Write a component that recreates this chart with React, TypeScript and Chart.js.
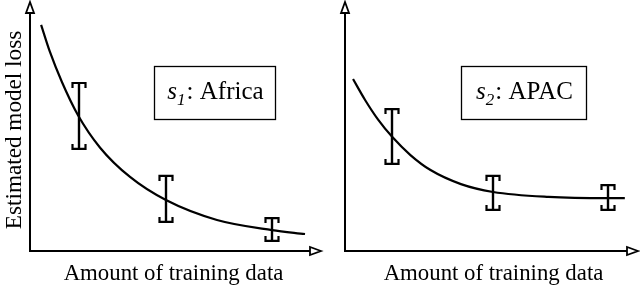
import React, { useEffect, useRef } from "react";
import { Chart, registerables } from "chart.js";
Chart.register(...registerables);

const FONT = '"Liberation Serif", "Times New Roman", serif';

// Panel s1: Africa
const africaCurveX = [0.39, 0.7, 1.12, 1.68, 2.46, 3.51, 4.77, 6.56, 8.49, 9.65];
const africaCurveY = [9.19, 8.09, 6.87, 5.53, 4.2, 3.01, 2.07, 1.26, 0.85, 0.69];
const africaBarX = [1.72, 4.77, 8.49];
const africaBarLow = [4.15, 1.18, 0.41];
const africaBarHigh = [6.83, 3.05, 1.34];

// Panel s2: APAC
const apacCurveX = [0.28, 0.7, 1.16, 1.65, 2.28, 2.98, 4.04, 5.16, 7.09, 9.16, 9.75];
const apacCurveY = [6.99, 6.14, 5.33, 4.63, 3.9, 3.29, 2.72, 2.4, 2.2, 2.15, 2.15];
const apacBarX = [1.65, 5.16, 9.16];
const apacBarLow = [3.54, 1.67, 1.67];
const apacBarHigh = [5.77, 3.05, 2.68];

const xAxisTitle = "Amount of training data";
const yAxisTitle = "Estimated model loss";
const panelSymbol = "s";
const africaSub = "1";
const africaName = ": Africa";
const apacSub = "2";
const apacName = ": APAC";

type PanelProps = {
  curveX: number[];
  curveY: number[];
  barX: number[];
  barLow: number[];
  barHigh: number[];
  sub: string;
  name: string;
  showYTitle: boolean;
  canvasLeft: number;
  canvasWidth: number;
  padLeft: number;
  padRight: number;
  box: { x: number; y: number; w: number; h: number };
  xTitleCenter: number;
};

function drawArrowUp(ctx: CanvasRenderingContext2D, x: number, tipY: number) {
  ctx.beginPath();
  ctx.moveTo(x, tipY);
  ctx.lineTo(x - 4, tipY + 11);
  ctx.lineTo(x + 4, tipY + 11);
  ctx.closePath();
  ctx.fillStyle = "#fff";
  ctx.fill();
  ctx.lineWidth = 1.8;
  ctx.stroke();
}

function drawArrowRight(ctx: CanvasRenderingContext2D, tipX: number, y: number) {
  ctx.beginPath();
  ctx.moveTo(tipX, y);
  ctx.lineTo(tipX - 11, y - 4);
  ctx.lineTo(tipX - 11, y + 4);
  ctx.closePath();
  ctx.fillStyle = "#fff";
  ctx.fill();
  ctx.lineWidth = 1.8;
  ctx.stroke();
}

const decorPlugin = {
  id: "decor",
  afterDatasetsDraw(chart: any, _args: any, opts: any) {
    const ctx: CanvasRenderingContext2D = chart.ctx;
    const { left, right, top, bottom } = chart.chartArea;
    const xs = chart.scales.x;
    const ys = chart.scales.y;
    const p: PanelProps = opts.panel;
    ctx.save();
    ctx.strokeStyle = "#000";
    ctx.lineCap = "butt";
    ctx.lineJoin = "miter";

    // axes
    const yTip = top - 3;
    const xTip = right + 6;
    ctx.lineWidth = 2;
    ctx.beginPath();
    ctx.moveTo(left, bottom + 1);
    ctx.lineTo(left, yTip + 11);
    ctx.moveTo(left - 1, bottom);
    ctx.lineTo(xTip - 11, bottom);
    ctx.stroke();
    drawArrowUp(ctx, left, yTip);
    drawArrowRight(ctx, xTip, bottom);

    // error bars
    for (let i = 0; i < p.barX.length; i++) {
      const px = Math.round(xs.getPixelForValue(p.barX[i]));
      const pt = ys.getPixelForValue(p.barHigh[i]);
      const pb = ys.getPixelForValue(p.barLow[i]);
      const hw = 6.5;
      const tk = 5;
      ctx.lineWidth = 2.4;
      ctx.beginPath();
      ctx.moveTo(px, pt);
      ctx.lineTo(px, pb);
      ctx.stroke();
      ctx.lineWidth = 2.2;
      ctx.beginPath();
      ctx.moveTo(px - hw, pt + tk);
      ctx.lineTo(px - hw, pt);
      ctx.lineTo(px + hw, pt);
      ctx.lineTo(px + hw, pt + tk);
      ctx.moveTo(px - hw, pb - tk);
      ctx.lineTo(px - hw, pb);
      ctx.lineTo(px + hw, pb);
      ctx.lineTo(px + hw, pb - tk);
      ctx.stroke();
    }

    // label box
    const b = p.box;
    ctx.lineWidth = 1.3;
    ctx.strokeRect(b.x + 0.5, b.y + 0.5, b.w, b.h);
    ctx.fillStyle = "#000";
    ctx.textBaseline = "alphabetic";
    ctx.textAlign = "left";
    const fMain = `25px ${FONT}`;
    const fItal = `italic 25px ${FONT}`;
    const fSub = `italic 17px ${FONT}`;
    ctx.font = fItal;
    const w1 = ctx.measureText(panelSymbol).width;
    ctx.font = fSub;
    const w2 = ctx.measureText(p.sub).width;
    ctx.font = fMain;
    const w3 = ctx.measureText(p.name).width;
    const total = w1 + w2 + w3 + 1;
    let tx = b.x + b.w / 2 - total / 2 + 1;
    const base = b.y + 33;
    ctx.font = fItal;
    ctx.fillText(panelSymbol, tx, base);
    tx += w1;
    ctx.font = fSub;
    ctx.fillText(p.sub, tx, base + 6);
    tx += w2 + 1;
    ctx.font = fMain;
    ctx.fillText(p.name, tx, base);

    // x title
    const fTitle = `22.8px ${FONT}`;
    ctx.font = fTitle;
    ctx.textAlign = "center";
    ctx.fillText(xAxisTitle, p.xTitleCenter, 280);

    // y title
    if (p.showYTitle) {
      ctx.save();
      ctx.font = `23.2px ${FONT}`;
      ctx.translate(21, 130);
      ctx.rotate(-Math.PI / 2);
      ctx.textAlign = "center";
      ctx.textBaseline = "alphabetic";
      ctx.fillText(yAxisTitle, 0, 0);
      ctx.restore();
    }
    ctx.restore();
  },
};

function Panel(props: PanelProps) {
  const ref = useRef<HTMLCanvasElement | null>(null);
  useEffect(() => {
    if (!ref.current) return;
    const data = props.curveX.map((x, i) => ({ x, y: props.curveY[i] }));
    const chart = new Chart(ref.current, {
      type: "line",
      data: {
        datasets: [
          {
            data,
            borderColor: "#000",
            borderWidth: 2.2,
            pointRadius: 0,
            fill: false,
            cubicInterpolationMode: "monotone",
          } as any,
        ],
      },
      options: {
        animation: false,
        responsive: false,
        maintainAspectRatio: false,
        events: [],
        layout: {
          padding: { left: props.padLeft, right: props.padRight, top: 5, bottom: 36 },
        },
        scales: {
          x: { type: "linear", min: 0, max: 10, display: false },
          y: { type: "linear", min: 0, max: 10, display: false },
        },
        plugins: {
          legend: { display: false },
          tooltip: { enabled: false },
          decor: { panel: props },
        } as any,
      },
      plugins: [decorPlugin],
    });
    return () => chart.destroy();
  }, []);
  return (
    <canvas
      ref={ref}
      width={props.canvasWidth}
      height={287}
      style={{
        position: "absolute",
        left: props.canvasLeft,
        top: 0,
        width: props.canvasWidth,
        height: 287,
      }}
    />
  );
}

export default function App() {
  return (
    <div
      style={{
        position: "fixed",
        left: 0,
        top: 0,
        width: 640,
        height: 287,
        background: "#fff",
        overflow: "hidden",
      }}
    >
      <Panel
        curveX={africaCurveX}
        curveY={africaCurveY}
        barX={africaBarX}
        barLow={africaBarLow}
        barHigh={africaBarHigh}
        sub={africaSub}
        name={africaName}
        showYTitle={true}
        canvasLeft={0}
        canvasWidth={330}
        padLeft={30}
        padRight={15}
        box={{ x: 154, y: 66, w: 121, h: 53 }}
        xTitleCenter={173.5}
      />
      <Panel
        curveX={apacCurveX}
        curveY={apacCurveY}
        barX={apacBarX}
        barLow={apacBarLow}
        barHigh={apacBarHigh}
        sub={apacSub}
        name={apacName}
        showYTitle={false}
        canvasLeft={330}
        canvasWidth={310}
        padLeft={15}
        padRight={8}
        box={{ x: 131, y: 66, w: 125, h: 53 }}
        xTitleCenter={163.5}
      />
    </div>
  );
}
